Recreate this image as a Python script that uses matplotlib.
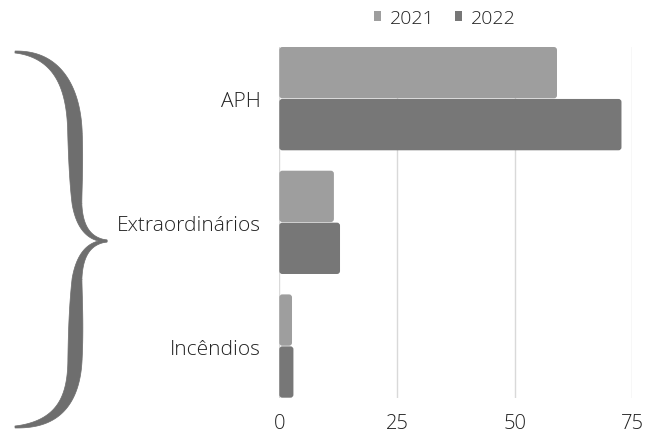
import numpy as np
import matplotlib
matplotlib.use("Agg")
import matplotlib.pyplot as plt
from matplotlib.patches import FancyBboxPatch, Patch, Polygon

plt.rcParams["font.family"] = ["Open Sans", "DejaVu Sans"]
plt.rcParams["font.weight"] = "light"

categories = ["APH", "Extraordinários", "Incêndios"]
years = ["2021", "2022"]
values_2021 = [59.0, 11.6, 2.7]
values_2022 = [72.7, 12.9, 3.0]
x_ticks = [0, 25, 50, 75]

colors = {"2021": "#9e9e9e", "2022": "#777777"}
text_color = "#222222"

W, H = 648, 439
fig = plt.figure(figsize=(W / 100, H / 100), dpi=100)
ax = fig.add_axes([279.3 / W, 1 - 399 / H, (632.3 - 279.3) / W, (399 - 47.7) / H])

bar_h = 0.415
pos = np.arange(len(categories))
ax.set_xlim(0, 75)
ax.set_ylim(len(categories) - 1 + 0.42, -0.42)

# px -> data conversion for rounded corners
x_per_px = 75 / (632.3 - 279.3)
y_per_px = (len(categories) - 1 + 0.84) / (399 - 47.7)
r_px = 3

for offset, year, vals in [(-0.21, "2021", values_2021), (0.21, "2022", values_2022)]:
    bars = ax.barh(pos + offset, vals, height=bar_h, color=colors[year])
    for b in bars:
        b.set_visible(False)
        x0, y0 = b.get_x(), b.get_y()
        w, h = b.get_width(), b.get_height()
        p = FancyBboxPatch((x0, y0), w, h,
                           boxstyle=f"round,pad=0,rounding_size={r_px * x_per_px}",
                           mutation_aspect=y_per_px / x_per_px,
                           facecolor=colors[year], edgecolor="none", zorder=3)
        ax.add_patch(p)

ax.set_yticks(pos)
ax.set_yticklabels(categories, fontsize=15, color=text_color)
ax.set_xticks(x_ticks)
ax.set_xticklabels([str(t) for t in x_ticks], fontsize=14.5, color=text_color)
ax.tick_params(axis="y", length=0, pad=13)
ax.tick_params(axis="x", length=0, pad=11)
ax.grid(axis="x", color="#d9d9d9", linewidth=1, zorder=0)
ax.set_axisbelow(True)
for s in ax.spines.values():
    s.set_visible(False)

handles = [Patch(facecolor=colors[y], edgecolor="none", label=y) for y in years]
fig.legend(handles=handles, loc="center", bbox_to_anchor=(445 / W, 1 - 19 / H),
           ncol=2, frameon=False, fontsize=14, handlelength=0.36, handleheight=0.36,
           handletextpad=0.45, columnspacing=1.05, labelcolor=text_color)


# curly brace on the left, built as a tapered stroke
def bezier(p0, p1, p2, p3, n=60):
    t = np.linspace(0, 1, n)[:, None]
    p0, p1, p2, p3 = map(np.array, (p0, p1, p2, p3))
    return (1 - t) ** 3 * p0 + 3 * (1 - t) ** 2 * t * p1 + 3 * (1 - t) * t ** 2 * p2 + t ** 3 * p3


def arm(segs):
    pts = np.vstack([bezier(*s) for s in segs])
    d = np.r_[0, np.cumsum(np.hypot(*np.diff(pts, axis=0).T))]
    s = d / d[-1]
    width = 2.0 + 12.5 * np.sin(np.pi * s) ** 1.1
    tang = np.gradient(pts, axis=0)
    tang /= np.hypot(tang[:, 0], tang[:, 1])[:, None]
    nrm = np.c_[-tang[:, 1], tang[:, 0]]
    left = pts + nrm * width[:, None] / 2
    right = pts - nrm * width[:, None] / 2
    return np.vstack([left, right[::-1]])


upper = arm([((15, 53), (55, 55), (74, 85), (75, 135)),
             ((75, 135), (76, 165), (76, 190), (77, 205)),
             ((77, 205), (80, 232), (92, 241), (107, 242))])
lower = arm([((107, 242), (92, 243), (80, 252), (77, 280)),
             ((77, 280), (76, 300), (76, 330), (75, 360)),
             ((75, 360), (74, 405), (55, 426), (15, 428))])
for shape in (upper, lower):
    xy = np.c_[shape[:, 0] / W, 1 - shape[:, 1] / H]
    fig.patches.append(Polygon(xy, closed=True, transform=fig.transFigure,
                               facecolor="#6e6e6e", edgecolor="#6e6e6e", linewidth=0.5))

fig.savefig("out.png", dpi=100)
